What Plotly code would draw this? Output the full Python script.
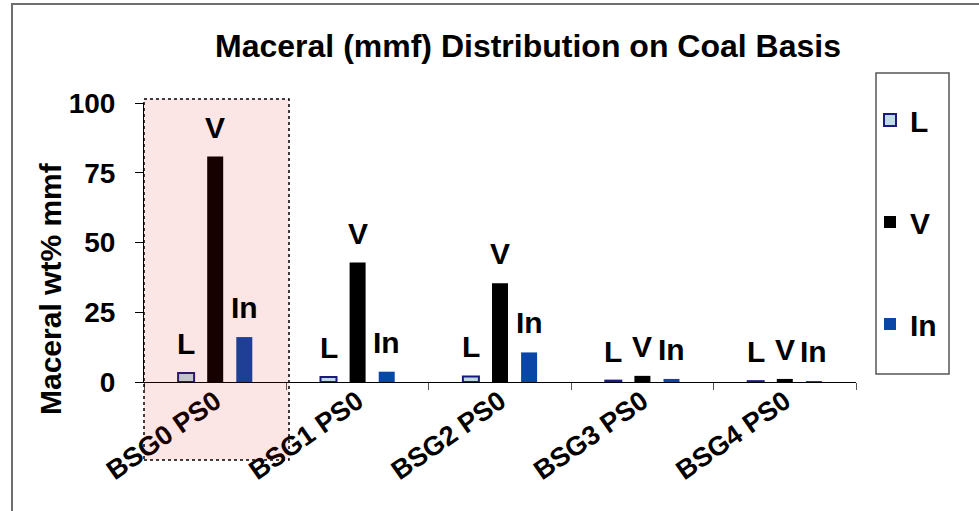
import plotly.graph_objects as go

categories = ["BSG0 PS0", "BSG1 PS0", "BSG2 PS0", "BSG3 PS0", "BSG4 PS0"]
series_names = ["L", "V", "In"]
L_values = [3.2, 1.8, 2.0, 0.5, 0.3]
V_values = [80.8, 42.8, 35.4, 2.2, 1.1]
In_values = [16.1, 3.7, 10.6, 1.1, 0.2]
y_ticks = [0, 25, 50, 75, 100]

FONT = "Liberation Sans, Arial, sans-serif"

series = [
    ("L", L_values, dict(color="#BFDCE4", line=dict(color="#1A1A7A", width=2))),
    ("V", V_values, dict(color="#000000", line=dict(color="#000000", width=0))),
    ("In", In_values, dict(color="#0A46A6", line=dict(color="#0A46A6", width=0))),
]

fig = go.Figure()
for i, (name, vals, mk) in enumerate(series):
    fig.add_trace(go.Bar(
        x=categories, y=vals, name=f"<b>{name}</b>", marker=mk,
        legendgroup=name, showlegend=True,
    ))

# bar labels (series name above each bar)
shifts = {"L": -29, "V": 0, "In": 29}
for name, vals, _ in series:
    for c, v in zip(categories, vals):
        fig.add_annotation(
            x=c, y=v, text=f"<b>{name}</b>", showarrow=False,
            xshift=shifts[name], yshift=11, yanchor="bottom",
            font=dict(family=FONT, size=30, color="#000000"),
        )

W, H = 979, 511
L_M, R_M, T_M, B_M = 144, 123, 103, 129
pw = W - L_M - R_M
ph = H - T_M - B_M

def px(xp):
    return (xp - L_M) / pw

def py(yp):
    return (H - B_M - yp) / ph

# y-axis title as rotated text
fig.add_annotation(
    x=px(50), y=py(289), xref="paper", yref="paper", showarrow=False,
    xanchor="center", yanchor="middle",
    text="<b>Maceral wt% mmf</b>", textangle=-90,
    font=dict(family=FONT, size=30, color="#000000"),
)

shapes = [
    # outer chart frame
    dict(type="rect", xref="paper", yref="paper", x0=px(12), x1=px(990), y0=py(530), y1=py(4),
         line=dict(color="#6E6E6E", width=2), fillcolor="rgba(0,0,0,0)", layer="below"),
    # legend frame
    dict(type="rect", xref="paper", yref="paper", x0=px(876), x1=px(949), y0=py(374), y1=py(73),
         line=dict(color="#555555", width=1.5), fillcolor="rgba(0,0,0,0)", layer="below"),
    # highlighted region
    dict(type="rect", xref="paper", yref="paper", x0=px(144), x1=px(289), y0=py(460), y1=py(99),
         line=dict(color="#000000", width=1.5, dash="dot"), fillcolor="rgba(230,0,0,0.1)", layer="above"),
]

fig.update_layout(
    width=W, height=H,
    margin=dict(l=L_M, r=R_M, t=T_M, b=B_M),
    paper_bgcolor="white", plot_bgcolor="white",
    barmode="group", bargap=0.387, bargroupgap=0.45,
    title=dict(text="<b>Maceral (mmf) Distribution on Coal Basis</b>",
               x=528 / W, xanchor="center", y=1 - 46 / H, yanchor="middle",
               font=dict(family=FONT, size=32, color="#000000")),
    font=dict(family=FONT, color="#000000"),
    xaxis=dict(
        type="category", showline=True, linecolor="#000000", linewidth=1,
        ticks="outside", tickson="boundaries", ticklen=7, tickcolor="#555555",
        tickangle=-35, tickfont=dict(family=FONT, size=27, color="#000000"),
        tickvals=categories, ticktext=[f"<b>{c}</b>" for c in categories],
        ticklabelstandoff=-8,
        showgrid=False, zeroline=False,
    ),
    yaxis=dict(
        range=[0, 100], tickvals=y_ticks, ticktext=[f"<b>{t}</b>" for t in y_ticks],
        showline=True, linecolor="#000000", linewidth=1,
        ticks="outside", ticklen=8, tickcolor="#000000", ticklabelstandoff=14,
        tickfont=dict(family=FONT, size=28, color="#000000"),
        showgrid=False, zeroline=False,
    ),
    legend=dict(
        x=px(870), xanchor="left", y=py(94), yanchor="top",
        font=dict(family=FONT, size=30, color="#000000"),
        tracegroupgap=60, bgcolor="rgba(0,0,0,0)", borderwidth=0,
        traceorder="grouped", maxheight=1,
    ),
    shapes=shapes,
)

fig.write_html("out.html")
